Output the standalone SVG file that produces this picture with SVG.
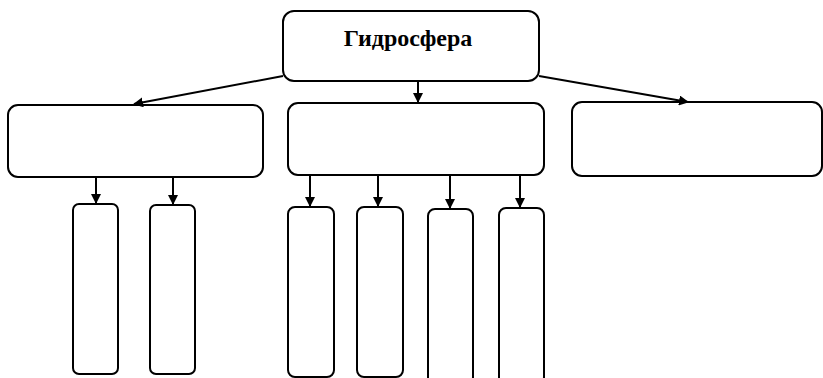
<svg xmlns="http://www.w3.org/2000/svg" width="823" height="378" viewBox="0 0 823 378">
<style>
.box{fill:#fff;stroke:#000;stroke-width:2}
.ln{fill:none;stroke:#000;stroke-width:2}
.t{font-family:"Liberation Serif",serif;font-weight:bold;font-size:24px;fill:#000}
</style>
<defs>
<marker id="ah" viewBox="0 0 10 10" refX="9" refY="5" markerWidth="5" markerHeight="5" orient="auto" markerUnits="strokeWidth">
<path d="M0,0 L10,5 L0,10 z" fill="#000"/>
</marker>
</defs>
<rect width="823" height="378" fill="#fff"/>
<g id="n-root"><rect class="box" x="283" y="11" width="256" height="70" rx="11"/><text class="t" x="408" y="46" text-anchor="middle">Гидросфера</text></g>
<g id="n-left"><rect class="box" x="8" y="105" width="255" height="72" rx="10"/></g>
<g id="n-mid"><rect class="box" x="288" y="103" width="256" height="72" rx="10"/></g>
<g id="n-right"><rect class="box" x="572" y="102" width="250" height="74" rx="10"/></g>
<g id="n-l1"><rect class="box" x="73" y="204" width="45" height="170" rx="6"/></g>
<g id="n-l2"><rect class="box" x="150" y="205" width="45" height="169" rx="6"/></g>
<g id="n-m1"><rect class="box" x="288" y="207" width="46" height="170" rx="7"/></g>
<g id="n-m2"><rect class="box" x="357" y="207" width="46" height="170" rx="7"/></g>
<g id="n-m3"><rect class="box" x="428" y="209" width="45" height="175" rx="7"/></g>
<g id="n-m4"><rect class="box" x="499" y="208" width="45" height="176" rx="7"/></g>
<g id="connectors">
<line class="ln" x1="283" y1="76" x2="134" y2="104" marker-end="url(#ah)"/>
<line class="ln" x1="418" y1="81" x2="418" y2="102" marker-end="url(#ah)"/>
<line class="ln" x1="539" y1="76" x2="688" y2="102" marker-end="url(#ah)"/>
<line class="ln" x1="96" y1="177" x2="96" y2="203" marker-end="url(#ah)"/>
<line class="ln" x1="173" y1="177" x2="173" y2="204" marker-end="url(#ah)"/>
<line class="ln" x1="310" y1="175" x2="310" y2="206" marker-end="url(#ah)"/>
<line class="ln" x1="378" y1="175" x2="378" y2="206" marker-end="url(#ah)"/>
<line class="ln" x1="450" y1="175" x2="450" y2="208" marker-end="url(#ah)"/>
<line class="ln" x1="520" y1="175" x2="520" y2="207" marker-end="url(#ah)"/>
</g>
</svg>
